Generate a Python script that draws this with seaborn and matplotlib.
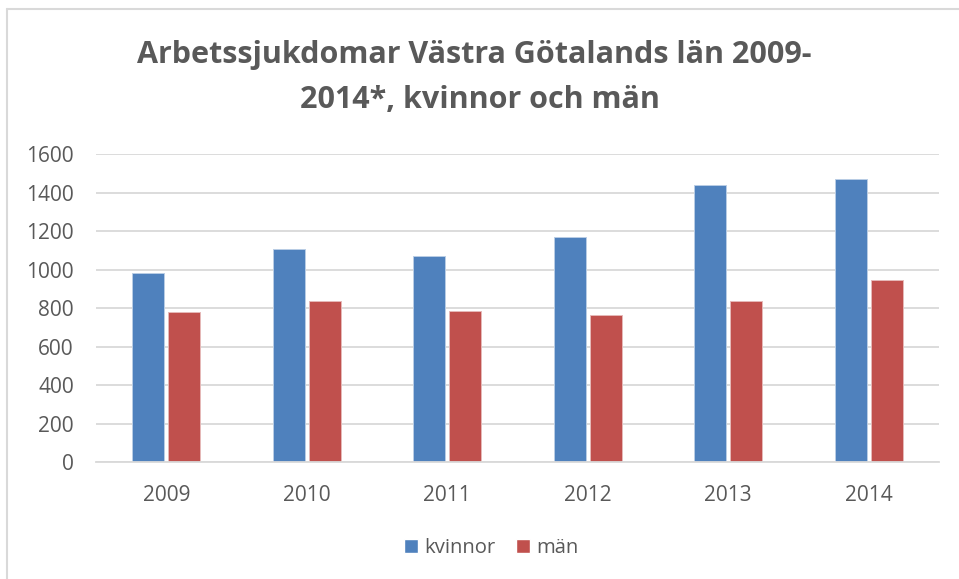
import numpy as np
import pandas as pd
import matplotlib
matplotlib.use("Agg")
import matplotlib.pyplot as plt
import seaborn as sns
from matplotlib.lines import Line2D
from matplotlib.patches import Patch

# ==============================
# DATA
# ==============================
years = ["2009", "2010", "2011", "2012", "2013", "2014"]
kvinnor = [982, 1106, 1072, 1170, 1440, 1473]
man = [782, 838, 788, 765, 838, 945]
series_names = ["kvinnor", "män"]
colors = ["#4F81BD", "#C0504D"]
y_ticks = [0, 200, 400, 600, 800, 1000, 1200, 1400, 1600]

df = pd.DataFrame({
    "year": years * 2,
    "value": kvinnor + man,
    "kon": [series_names[0]] * len(years) + [series_names[1]] * len(years),
})

# ==============================
# PLOT
# ==============================
sns.set_style("white")
plt.rcParams["font.family"] = ["Open Sans", "DejaVu Sans"]

W, H = 959, 579
TXT = "#595959"
fig = plt.figure(figsize=(W / 100, H / 100), dpi=100)
ax = fig.add_axes([96 / W, 1 - 462.3 / H, 843 / W, 308 / H])

sns.barplot(data=df, x="year", y="value", hue="kon", palette=colors, saturation=1,
            width=0.512, gap=0.11, ax=ax, legend=False, linewidth=0.7)
# light edge like the original
for p, c in zip(ax.patches, [colors[0]] * 6 + [colors[1]] * 6):
    p.set_edgecolor(np.array(matplotlib.colors.to_rgb(c)) * 0.4 + 0.6)

ax.set_ylim(0, 1600)
ax.set_xlim(-0.5, 5.5)
ax.set_yticks(y_ticks)
ax.set_yticklabels([str(t) for t in y_ticks])
ax.yaxis.grid(True, color="#D9D9D9", linewidth=1.3)
ax.set_axisbelow(True)
for s in ["top", "right", "left"]:
    ax.spines[s].set_visible(False)
ax.spines["bottom"].set_color("#D9D9D9")
ax.spines["bottom"].set_linewidth(1.3)
ax.tick_params(axis="y", length=0, pad=16, labelsize=15, labelcolor=TXT)
ax.tick_params(axis="x", length=0, pad=16, labelsize=15, labelcolor=TXT)
ax.set_xlabel("")
ax.set_ylabel("")

fig.text(0.495, 1 - 55 / H, "Arbetssjukdomar Västra Götalands län 2009-", ha="center", va="center",
         fontsize=22, fontweight="bold", color=TXT)
fig.text(0.5, 1 - 100 / H, "2014*, kvinnor och män", ha="center", va="center",
         fontsize=22, fontweight="bold", color=TXT)

handles = [Patch(facecolor=c, label=n) for c, n in zip(colors, series_names)]
fig.legend(handles=handles, loc="center", bbox_to_anchor=(491 / W, 1 - 548 / H), ncol=2,
           frameon=False, fontsize=14.6, labelcolor=TXT,
           handlelength=0.7, handleheight=0.7, handletextpad=0.3, columnspacing=1.0)

# chart border (top and left only visible)
fig.add_artist(Line2D([7 / W, 1], [1 - 9 / H, 1 - 9 / H], color="#D9D9D9", linewidth=1.5))
fig.add_artist(Line2D([7 / W, 7 / W], [1 - 9 / H, 0], color="#D9D9D9", linewidth=1.5))

fig.savefig("out.png", dpi=100)
